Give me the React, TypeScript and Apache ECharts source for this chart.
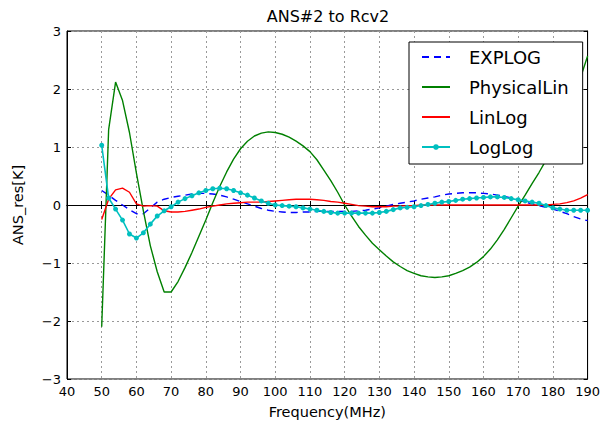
import React, { useEffect, useRef } from "react";
import * as echarts from "echarts";

const freqs = [50,52,54,56,58,60,62,64,66,68,70,72,74,76,78,80,82,84,86,88,90,92,94,96,98,100,102,104,106,108,110,112,114,116,118,120,122,124,126,128,130,132,134,136,138,140,142,144,146,148,150,152,154,156,158,160,162,164,166,168,170,172,174,176,178,180,182,184,186,188,190];

const explog = [0.25,0.17,0.08,0.0,-0.08,-0.15,-0.15,-0.05,0.05,0.1,0.13,0.15,0.17,0.19,0.2,0.2,0.19,0.17,0.14,0.1,0.06,0.02,-0.02,-0.06,-0.09,-0.11,-0.12,-0.13,-0.13,-0.12,-0.12,-0.11,-0.11,-0.11,-0.11,-0.11,-0.11,-0.1,-0.09,-0.07,-0.05,-0.02,0.01,0.03,0.05,0.07,0.1,0.12,0.14,0.17,0.19,0.2,0.21,0.21,0.21,0.2,0.19,0.17,0.15,0.12,0.09,0.05,0.02,-0.01,-0.04,-0.07,-0.11,-0.15,-0.2,-0.24,-0.27];

const physicalLin = [-2.1,1.3,2.12,1.8,1.25,0.55,-0.1,-0.7,-1.15,-1.5,-1.5,-1.32,-1.08,-0.82,-0.54,-0.26,0.04,0.32,0.57,0.79,0.97,1.1,1.19,1.24,1.26,1.25,1.22,1.17,1.1,1.02,0.92,0.78,0.6,0.42,0.22,0.0,-0.19,-0.37,-0.52,-0.66,-0.77,-0.88,-0.98,-1.06,-1.13,-1.18,-1.22,-1.24,-1.25,-1.24,-1.22,-1.18,-1.13,-1.07,-0.99,-0.89,-0.76,-0.6,-0.42,-0.22,-0.02,0.17,0.37,0.56,0.77,1.0,1.23,1.48,1.8,2.2,2.57];

const linLog = [-0.25,0.1,0.26,0.29,0.22,0.02,-0.02,-0.01,-0.02,-0.1,-0.12,-0.12,-0.11,-0.09,-0.07,-0.04,-0.02,0.0,0.02,0.03,0.04,0.05,0.05,0.05,0.06,0.07,0.08,0.09,0.1,0.1,0.1,0.09,0.08,0.06,0.05,0.03,0.01,-0.01,-0.02,-0.03,-0.03,-0.03,-0.02,-0.02,-0.01,-0.01,0.0,0.0,0.0,0.0,0.0,0.0,0.0,0.0,0.0,0.0,0.0,0.0,0.0,0.0,0.0,0.0,0.0,0.0,0.0,0.01,0.02,0.04,0.07,0.12,0.18];

const logLog = [1.03,0.12,-0.07,-0.26,-0.5,-0.57,-0.48,-0.33,-0.19,-0.1,-0.03,0.05,0.11,0.16,0.21,0.25,0.28,0.29,0.28,0.25,0.21,0.17,0.12,0.07,0.03,0.0,-0.01,-0.02,-0.03,-0.05,-0.07,-0.09,-0.11,-0.13,-0.14,-0.14,-0.14,-0.14,-0.14,-0.14,-0.13,-0.11,-0.08,-0.05,-0.04,-0.03,-0.01,0.01,0.03,0.05,0.06,0.08,0.1,0.11,0.12,0.13,0.14,0.14,0.13,0.11,0.09,0.07,0.05,0.03,-0.01,-0.05,-0.07,-0.09,-0.09,-0.09,-0.09];

const seriesNames = ["EXPLOG", "PhysicalLin", "LinLog", "LogLog"];

const FONT = "DejaVu Sans";

const pairs = (vals: number[]) => freqs.map((f, i) => [f, vals[i]]);

export default function App() {
  const ref = useRef<HTMLDivElement>(null);
  useEffect(() => {
    if (!ref.current) return;
    const chart = echarts.init(ref.current, null, { renderer: "svg" });
    const gridLine = { show: true, lineStyle: { color: "#999", width: 1, type: [2, 3] as any } };
    const minus = (v: number) => String(v).replace("-", "\u2212");
    const hiddenMarker = { opacity: 0, color: "rgba(0,0,0,0)", borderWidth: 0 };
    chart.setOption({
      animation: false,
      backgroundColor: "#fff",
      title: {
        text: "ANS#2 to Rcv2",
        left: 328,
        top: 8,
        padding: 0,
        textAlign: "center",
        textStyle: { fontFamily: FONT, fontSize: 16, fontWeight: "normal", color: "#000" },
      },
      grid: { left: 67, right: 13, top: 31, bottom: 46, show: true, borderColor: "#000", borderWidth: 1, backgroundColor: "transparent" },
      legend: {
        left: 409,
        top: 42,
        orient: "vertical",
        backgroundColor: "#fff",
        borderColor: "#000",
        borderWidth: 1,
        borderRadius: 0,
        padding: [6, 14, 8, 12],
        itemWidth: 28,
        itemHeight: 7,
        itemGap: 12,
        textStyle: { fontFamily: FONT, fontSize: 18, color: "#000", padding: [0, 0, 0, 14] },
        data: [
          { name: seriesNames[0], itemStyle: hiddenMarker },
          { name: seriesNames[1], itemStyle: hiddenMarker },
          { name: seriesNames[2], itemStyle: hiddenMarker },
          { name: seriesNames[3] },
        ],
      },
      xAxis: [
        {
          type: "value",
          min: 40,
          max: 190,
          interval: 10,
          position: "bottom",
          name: "Frequency(MHz)",
          nameLocation: "middle",
          nameGap: 25,
          nameTextStyle: { fontFamily: FONT, fontSize: 14.5, color: "#000" },
          axisLine: { show: true, lineStyle: { color: "#000" } },
          axisTick: { show: true, inside: true, length: 4, lineStyle: { color: "#000" } },
          axisLabel: { fontFamily: FONT, fontSize: 13, color: "#000", margin: 6 },
          splitLine: gridLine,
        },
        {
          type: "value",
          min: 40,
          max: 190,
          interval: 10,
          position: "top",
          axisLine: { show: true, lineStyle: { color: "#000" } },
          axisTick: { show: true, inside: true, length: 4, lineStyle: { color: "#000" } },
          axisLabel: { show: false },
          splitLine: { show: false },
        },
      ],
      yAxis: [
        {
          type: "value",
          min: -3,
          max: 3,
          interval: 1,
          position: "left",
          name: "ANS_res[K]",
          nameLocation: "middle",
          nameGap: 42,
          nameRotate: 90,
          nameTextStyle: { fontFamily: FONT, fontSize: 14.5, color: "#000" },
          axisLine: { show: true, lineStyle: { color: "#000" } },
          axisTick: { show: true, inside: true, length: 4, lineStyle: { color: "#000" } },
          axisLabel: { fontFamily: FONT, fontSize: 13, color: "#000", margin: 6, formatter: minus },
          splitLine: gridLine,
        },
        {
          type: "value",
          min: -3,
          max: 3,
          interval: 1,
          position: "right",
          axisLine: { show: true, lineStyle: { color: "#000" } },
          axisTick: { show: true, inside: true, length: 4, lineStyle: { color: "#000" } },
          axisLabel: { show: false },
          splitLine: { show: false },
        },
      ],
      series: [
        {
          name: seriesNames[0],
          type: "line",
          data: pairs(explog),
          symbol: "none",
          lineStyle: { color: "#0000ff", width: 1.4, type: [7, 5] },
          itemStyle: { color: "#0000ff" },
        },
        {
          name: seriesNames[1],
          type: "line",
          data: pairs(physicalLin),
          symbol: "none",
          lineStyle: { color: "#008000", width: 1.4 },
          itemStyle: { color: "#008000" },
        },
        {
          name: seriesNames[2],
          type: "line",
          data: pairs(linLog),
          symbol: "none",
          lineStyle: { color: "#ff0000", width: 1.4 },
          itemStyle: { color: "#ff0000" },
        },
        {
          name: seriesNames[3],
          type: "line",
          data: pairs(logLog),
          symbol: "circle",
          symbolSize: 5,
          lineStyle: { color: "#00bfbf", width: 1.6 },
          itemStyle: { color: "#00bfbf" },
        },
      ],
    });
    return () => chart.dispose();
  }, []);
  return (
    <div
      ref={ref}
      style={{ position: "fixed", left: 0, top: 0, width: 603, height: 425, background: "#fff" }}
    />
  );
}
